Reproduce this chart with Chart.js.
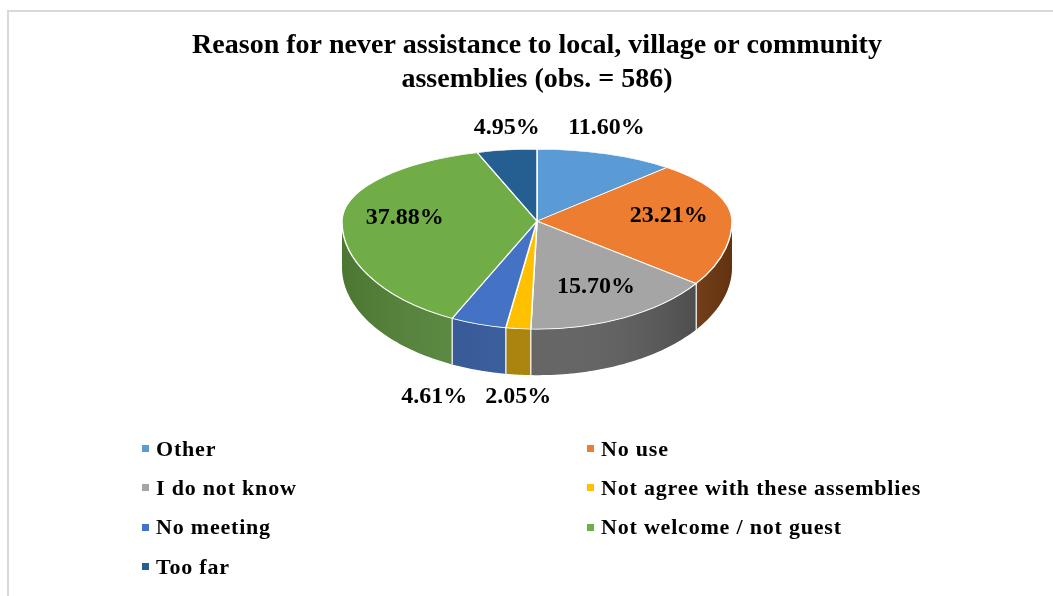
<!DOCTYPE html>
<html>
<head>
<meta charset="utf-8">
<script src="https://cdn.jsdelivr.net/npm/chart.js@4.4.1/dist/chart.umd.min.js"></script>
<style>
body { margin: 0; background: #fff; }
#frame { position: absolute; left: 7px; top: 10px; width: 1100px; height: 700px;
         border-left: 2px solid #d9d9d9; border-top: 2px solid #d9d9d9; }
#chartcanvas { position: absolute; left: 0; top: 0; }
#legend { position: absolute; left: 142px; top: 429px;
          display: grid; grid-template-columns: 445px 440px; }
#legend .item { display: flex; align-items: center; height: 39.3px; letter-spacing: 0.8px;
                font: bold 22px 'Liberation Serif', 'Times New Roman', serif; color: #000; white-space: nowrap; }
#legend .box { width: 7px; height: 7px; margin-right: 7px; flex: none; }
</style>
</head>
<body>
<div id="frame"></div>
<canvas id="chartcanvas" width="1053" height="596"></canvas>
<div id="legend"></div>
<script>
var reasons = ['Other', 'No use', 'I do not know', 'Not agree with these assemblies',
               'No meeting', 'Not welcome / not guest', 'Too far'];
var shares = [11.60, 23.21, 15.70, 2.05, 4.61, 37.88, 4.95];
var topColors = ['#5b9bd5', '#ed7d31', '#a5a5a5', '#ffc000', '#4472c4', '#70ad47', '#255e91'];
var sideColors = ['#3f74a6', '#8c4714', '#5a5a5a', '#a67c00', '#2f5597', '#56873a', '#1b4a75'];

// fake 3d: back half squashed more than the front half
const tiltTop = 72 / 195;
const tiltBottom = 108 / 195;
const depth = 46;
const labelFont = 'bold 24px "Liberation Serif", "Times New Roman", serif';

function rimPoint(x, y, r, a) {
    const s = Math.sin(a) < 0 ? tiltTop : tiltBottom;
    return [x + r * Math.cos(a), y + r * Math.sin(a) * s];
}

const pie3d = {
    id: 'pie3d',
    beforeDatasetsDraw: (chart) => {
        const ctx = chart.ctx;
        const arcs = chart.getDatasetMeta(0).data;
        const {x, y, outerRadius: r} = arcs[0].getProps(['x', 'y', 'outerRadius'], true);

        // side walls (front half only)
        arcs.forEach((arc, i) => {
            const p = arc.getProps(['startAngle', 'endAngle'], true);
            const a1 = Math.max(p.startAngle, 0);
            const a2 = Math.min(p.endAngle, Math.PI);
            if (a2 <= a1) return;
            const n = 48;
            ctx.save();
            ctx.beginPath();
            for (let k = 0; k <= n; k++) {
                const q = rimPoint(x, y, r, a1 + (a2 - a1) * k / n);
                if (k) ctx.lineTo(q[0], q[1]); else ctx.moveTo(q[0], q[1]);
            }
            for (let k = n; k >= 0; k--) {
                const q = rimPoint(x, y, r, a1 + (a2 - a1) * k / n);
                ctx.lineTo(q[0], q[1] + depth);
            }
            ctx.closePath();
            ctx.fillStyle = sideColors[i];
            ctx.fill();
            const g = ctx.createLinearGradient(x - r, 0, x + r, 0);
            g.addColorStop(0, 'rgba(0,0,0,0.12)');
            g.addColorStop(0.45, 'rgba(255,255,255,0.06)');
            g.addColorStop(1, 'rgba(0,0,0,0.3)');
            ctx.fillStyle = g;
            ctx.fill();
            // white seams between wall pieces
            ctx.strokeStyle = '#fff';
            ctx.lineWidth = 1;
            [a1, a2].forEach((a) => {
                if (a <= 0.001 || a >= Math.PI - 0.001) return;
                const q = rimPoint(x, y, r, a);
                ctx.beginPath();
                ctx.moveTo(q[0], q[1]);
                ctx.lineTo(q[0], q[1] + depth);
                ctx.stroke();
            });
            ctx.restore();
        });

        // top face drawn in two halves with different squash
        [[tiltTop, 0, y + 1], [tiltBottom, y, chart.height]].forEach(([s, y0, y1]) => {
            ctx.save();
            ctx.beginPath();
            ctx.rect(0, y0, chart.width, y1 - y0);
            ctx.clip();
            ctx.translate(0, y);
            ctx.scale(1, s);
            ctx.translate(0, -y);
            arcs.forEach((arc) => arc.draw(ctx));
            ctx.restore();
        });
        return false;
    },
    afterDraw: (chart) => {
        const ctx = chart.ctx;
        const arcs = chart.getDatasetMeta(0).data;
        const values = chart.data.datasets[0].data;
        const {x, y, outerRadius: r} = arcs[0].getProps(['x', 'y', 'outerRadius'], true);
        ctx.save();
        ctx.font = labelFont;
        ctx.fillStyle = '#000';
        ctx.textAlign = 'center';
        ctx.textBaseline = 'middle';

        let outside = [];
        arcs.forEach((arc, i) => {
            const p = arc.getProps(['startAngle', 'endAngle'], true);
            const mid = (p.startAngle + p.endAngle) / 2;
            const text = values[i].toFixed(2) + '%';
            if (values[i] >= 12) {
                const q = rimPoint(x, y, r * 0.68, mid);
                ctx.fillText(text, q[0], q[1]);
            } else {
                const q = rimPoint(x, y, r, mid);
                const front = Math.sin(mid) > 0;
                outside.push({
                    text: text, mid: mid, front: front,
                    x: q[0], y: front ? y + r * tiltBottom + depth + 22 : y - r * tiltTop - 21,
                    w: ctx.measureText(text).width + 18,
                });
            }
        });

        // keep labels nearest the middle in place, push others sideways
        outside.sort((a, b) => Math.abs(Math.cos(a.mid)) - Math.abs(Math.cos(b.mid)));
        let placed = [];
        outside.forEach((l) => {
            const dir = Math.cos(l.mid) < 0 ? -1 : 1;
            placed.forEach((o) => {
                if (o.front !== l.front) return;
                const need = (o.w + l.w) / 2;
                if (Math.abs(l.x - o.x) < need) l.x = o.x + dir * need;
            });
            placed.push(l);
            ctx.fillText(l.text, l.x, l.y);
        });
        ctx.restore();
    }
};

let ctx = document.getElementById('chartcanvas');
let chart = new Chart(ctx, {
    type: 'pie',
    data: {
        labels: reasons,
        datasets: [{
            data: shares,
            backgroundColor: topColors,
            borderColor: '#fff',
            borderWidth: 1.5,
            radius: 195,
        }],
    },
    options: {
        responsive: false,
        animation: false,
        layout: {
            padding: { left: 21, right: 0, top: 0, bottom: 251 },
        },
        plugins: {
            legend: { display: false },
            tooltip: { enabled: false },
            title: {
                display: true,
                text: ['Reason for never assistance to local, village or community',
                       'assemblies (obs. = 586)'],
                color: '#000',
                font: { family: "'Liberation Serif', 'Times New Roman', serif", size: 28, weight: 'bold', lineHeight: 1.22 },
                padding: { top: 29, bottom: 0 },
            },
        },
    },
    plugins: [pie3d],
});

// legend laid out in two columns like the original
let legendDiv = document.getElementById('legend');
chart.data.labels.forEach((name, i) => {
    let item = document.createElement('div');
    item.className = 'item';
    let box = document.createElement('span');
    box.className = 'box';
    box.style.background = chart.data.datasets[0].backgroundColor[i];
    item.appendChild(box);
    item.appendChild(document.createTextNode(name));
    legendDiv.appendChild(item);
});
</script>
</body>
</html>
